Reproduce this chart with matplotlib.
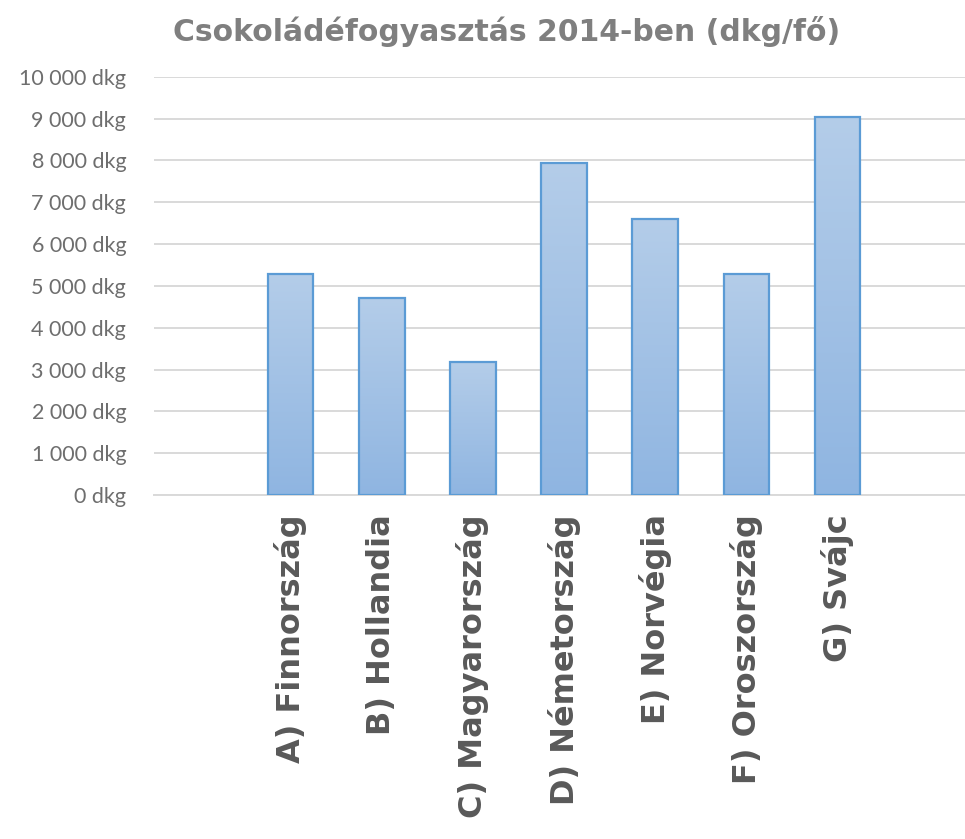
import matplotlib
matplotlib.use("Agg")
import matplotlib.pyplot as plt
import numpy as np
from matplotlib.ticker import FuncFormatter, MultipleLocator
from matplotlib.colors import LinearSegmentedColormap

title = "Csokoládéfogyasztás 2014-ben (dkg/fő)"
categories = ["A) Finnország", "B) Hollandia", "C) Magyarország", "D) Németország",
              "E) Norvégia", "F) Oroszország", "G) Svájc"]
values = [5290, 4720, 3175, 7930, 6610, 5290, 9030]
y_max = 10000
y_step = 1000
unit = "dkg"

fig = plt.figure(figsize=(9.65, 8.39), dpi=100)
ax = fig.add_axes([154/965, 1-495/839, 1-154/965, (495-76.7)/839])

x = np.arange(1, len(categories) + 1)
bars = ax.bar(x, values, width=0.5, color="none", edgecolor="#5b9bd5", linewidth=1.6, zorder=3)

# vertical gradient fill inside each bar
grad = np.linspace(0, 1, 256).reshape(-1, 1)
cmap = LinearSegmentedColormap.from_list("g", ["#8fb5e1", "#b4cde9"])
for b in bars:
    x0, w, h = b.get_x(), b.get_width(), b.get_height()
    ax.imshow(grad, extent=(x0, x0 + w, 0, h), origin="lower", cmap=cmap,
              aspect="auto", zorder=2, interpolation="bilinear")

ax.set_xlim(-0.5, 8.4)
ax.set_ylim(0, y_max)
ax.yaxis.set_major_locator(MultipleLocator(y_step))
ax.yaxis.set_major_formatter(FuncFormatter(lambda v, p: f"{int(v):,}".replace(",", " ") + " " + unit))
ax.grid(axis="y", color="#d9d9d9", linewidth=1.4, zorder=0)
ax.set_axisbelow(True)
for s in ["top", "right", "left"]:
    ax.spines[s].set_visible(False)
ax.spines["bottom"].set_color("#d9d9d9")
ax.spines["bottom"].set_linewidth(1.4)
ax.spines["bottom"].set_zorder(1)

ax.set_xticks(x)
ax.set_xticklabels(categories, rotation=90, fontsize=23, fontweight="bold",
                   color="#595959", family="DejaVu Sans")
ax.tick_params(axis="x", length=0, pad=14)
ax.tick_params(axis="y", length=0, pad=20, labelsize=15.5, labelcolor="#6e6e6e")
for lbl in ax.get_yticklabels():
    lbl.set_family("Lato")

fig.text(0.525, 0.962, title, ha="center", va="center", fontsize=21.5, fontweight="bold",
         color="#7f7f7f", family="DejaVu Sans")

fig.savefig("out.png", dpi=100)
